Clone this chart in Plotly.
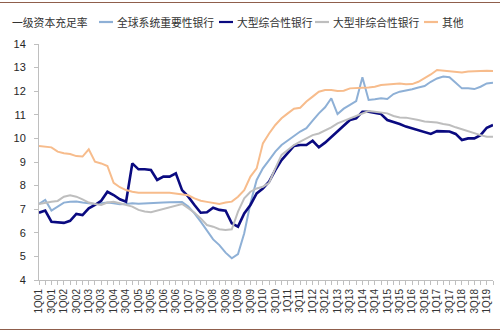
import plotly.graph_objects as go

quarters = [
    "1Q01","2Q01","3Q01","4Q01","1Q02","2Q02","3Q02","4Q02","1Q03","2Q03","3Q03","4Q03",
    "1Q04","2Q04","3Q04","4Q04","1Q05","2Q05","3Q05","4Q05","1Q06","2Q06","3Q06","4Q06",
    "1Q07","2Q07","3Q07","4Q07","1Q08","2Q08","3Q08","4Q08","1Q09","2Q09","3Q09","4Q09",
    "1Q10","2Q10","3Q10","4Q10","1Q11","2Q11","3Q11","4Q11","1Q12","2Q12","3Q12","4Q12",
    "1Q13","2Q13","3Q13","4Q13","1Q14","2Q14","3Q14","4Q14","1Q15","2Q15","3Q15","4Q15",
    "1Q16","2Q16","3Q16","4Q16","1Q17","2Q17","3Q17","4Q17","1Q18","2Q18","3Q18","4Q18",
    "1Q19","2Q19",
]

gsib = [7.22,7.39,6.94,7.11,7.28,7.32,7.33,7.28,7.25,7.22,7.25,7.28,7.25,7.21,7.22,7.25,
        7.23,7.25,7.25,7.26,7.28,7.29,7.30,7.30,7.11,6.82,6.47,6.12,5.72,5.48,5.16,4.92,
        5.10,5.98,7.25,8.24,8.73,9.08,9.44,9.72,9.93,10.10,10.29,10.43,10.75,11.06,11.32,11.70,
        11.03,11.26,11.42,11.58,12.59,11.63,11.66,11.70,11.67,11.88,11.98,12.02,12.08,12.16,12.22,12.40,
        12.54,12.62,12.59,12.36,12.12,12.12,12.09,12.19,12.33,12.36]

large_universal = [6.85,6.94,6.47,6.43,6.42,6.51,6.80,6.75,7.04,7.18,7.36,7.74,7.60,7.42,7.32,8.94,
        8.69,8.69,8.66,8.24,8.38,8.38,8.52,7.81,7.53,7.18,6.85,6.87,7.06,6.97,6.94,6.40,
        6.26,6.82,7.18,7.67,7.88,8.17,8.66,9.08,9.37,9.68,9.72,9.72,9.90,9.62,9.82,10.07,
        10.29,10.57,10.78,10.85,11.13,11.13,11.09,11.03,10.78,10.71,10.61,10.50,10.43,10.36,10.29,10.19,
        10.31,10.31,10.29,10.19,9.93,10.00,10.00,10.14,10.45,10.57]

large_other = [7.22,7.28,7.32,7.35,7.53,7.59,7.53,7.42,7.28,7.22,7.18,7.28,7.31,7.25,7.18,7.11,
        6.97,6.90,6.87,6.94,7.04,7.11,7.16,7.22,7.04,6.85,6.61,6.33,6.26,6.15,6.12,6.15,
        6.90,7.46,7.74,7.88,7.95,8.12,8.73,9.30,9.51,9.72,9.86,10.00,10.14,10.21,10.33,10.47,
        10.64,10.75,10.85,10.95,11.06,11.16,11.13,11.10,11.06,10.95,10.89,10.88,10.84,10.78,10.72,10.70,
        10.67,10.61,10.57,10.47,10.38,10.30,10.21,10.14,10.07,10.07]

others = [9.68,9.65,9.62,9.44,9.37,9.34,9.25,9.23,9.54,9.01,8.94,8.83,8.12,7.93,7.81,7.74,
        7.70,7.70,7.71,7.70,7.70,7.70,7.67,7.64,7.59,7.46,7.36,7.31,7.25,7.22,7.28,7.32,
        7.53,7.81,8.38,8.73,9.79,10.21,10.57,10.85,11.06,11.26,11.30,11.56,11.77,11.98,12.05,12.05,
        12.01,12.02,12.12,12.12,12.15,12.16,12.19,12.26,12.29,12.33,12.33,12.29,12.30,12.40,12.54,12.71,
        12.90,12.87,12.86,12.83,12.79,12.83,12.86,12.86,12.87,12.86]

series_names = ["全球系统重要性银行", "大型综合性银行", "大型非综合性银行", "其他"]
series_vals = [gsib, large_universal, large_other, others]
colors = ["#8EB0D6", "#0A0A80", "#BEBEBE", "#F7BC8C"]
widths = [2, 2.6, 2, 2]
chart_title = "一级资本充足率"

tick_text = [q if i % 2 == 0 else "" for i, q in enumerate(quarters)]

CJK = "Noto Sans CJK SC"
LAT = "Liberation Sans, Arial"

fig = go.Figure()
for name, vals, c, w in zip(series_names, series_vals, colors, widths):
    fig.add_trace(go.Scatter(x=quarters, y=vals, mode="lines", name=name,
                             line=dict(color=c, width=w), showlegend=False))

fig.update_layout(
    width=500, height=332,
    margin=dict(l=39, r=7, t=44, b=52),
    paper_bgcolor="white", plot_bgcolor="white",
    font=dict(family=LAT, size=11, color="#262626"),
)
fig.update_xaxes(
    type="category", categoryorder="array", categoryarray=quarters,
    range=[0, len(quarters) - 1],
    tickmode="array", tickvals=quarters, ticktext=tick_text,
    tickangle=-90, tickfont=dict(size=10, family=LAT, color="#333333"),
    ticks="outside", ticklen=4, tickcolor="#BFBFBF",
    showline=True, linecolor="#BFBFBF", linewidth=1,
    showgrid=False, zeroline=False,
)
fig.update_yaxes(
    range=[4, 14], dtick=1, tickmode="linear", tick0=4,
    tickfont=dict(size=11, family=LAT, color="#262626"),
    ticks="outside", ticklen=4, tickcolor="#BFBFBF", ticklabelstandoff=6,
    showline=True, linecolor="#BFBFBF", linewidth=1,
    showgrid=False, zeroline=False,
)

# Chart title (left of legend)
fig.add_annotation(text=chart_title, xref="paper", yref="paper", x=-39/454, y=1 + 22/236,
                   xanchor="left", yanchor="middle", showarrow=False,
                   xshift=10, font=dict(family=CJK, size=10.8, color="#333333"))

# Manual legend: line swatch + label
legend_x = [99, 219, 315, 424]  # page px for swatch start
for name, c, lx in zip(series_names, colors, legend_x):
    x0 = (lx - 39) / 454
    x1 = (lx + 14 - 39) / 454
    yy = 1 + 22 / 236
    fig.add_shape(type="line", xref="paper", yref="paper", x0=x0, x1=x1, y0=yy, y1=yy,
                  line=dict(color=c, width=2.2))
    fig.add_annotation(text=name, xref="paper", yref="paper", x=(lx + 16 - 39) / 454, y=yy,
                       xanchor="left", yanchor="middle", showarrow=False,
                       font=dict(family=CJK, size=10.8, color="#333333"))

# Decorative top and bottom rules
for yp in [329.5, 2.5]:
    yv = (332 - 52 - yp) / 236
    fig.add_shape(type="line", xref="paper", yref="paper", x0=-39/454, x1=1 + 7/454,
                  y0=yv, y1=yv, line=dict(color="#8F5E4C", width=1.2))

fig.write_html("out.html")
